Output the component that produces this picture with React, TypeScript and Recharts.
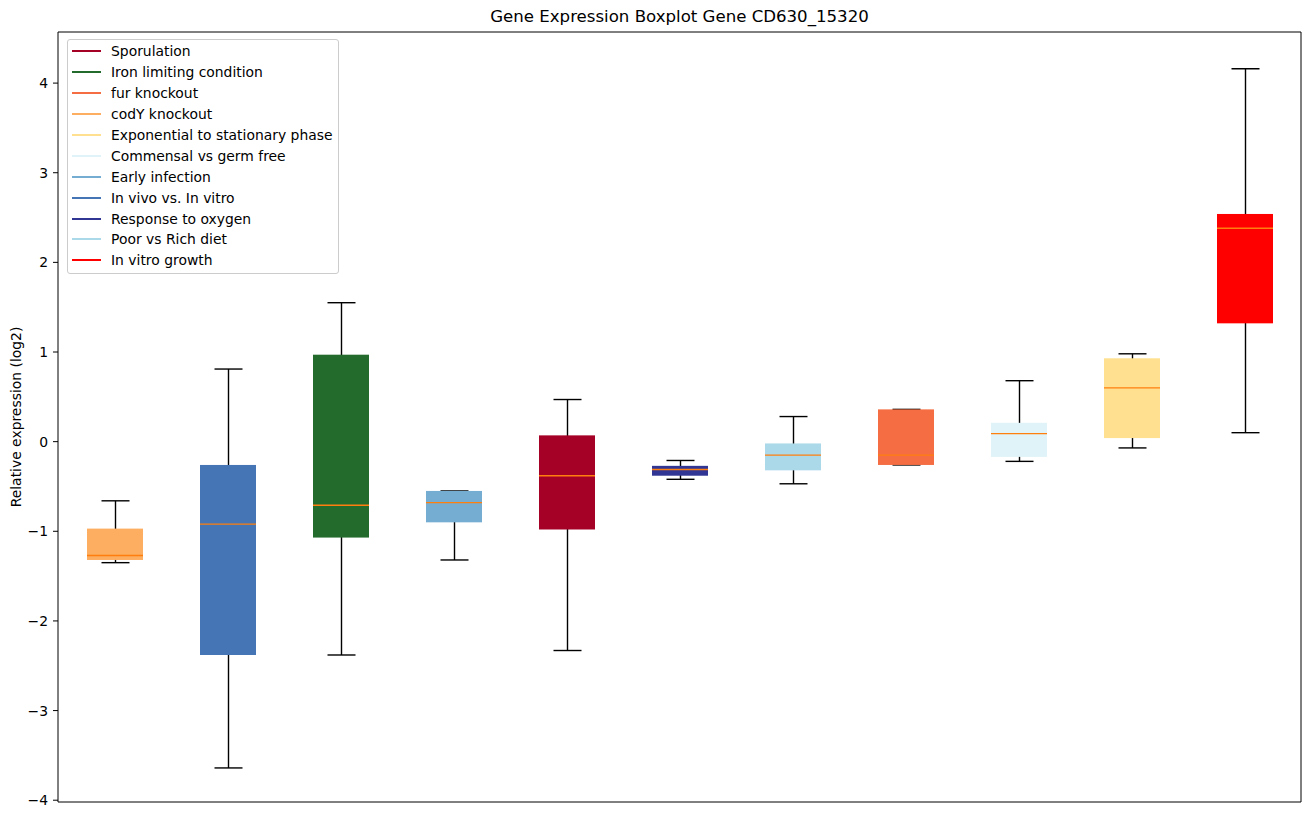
import { ComposedChart, Bar, XAxis, YAxis, Legend, ReferenceArea } from "recharts";

// box order along the x axis
const categories = [
  "codY knockout",
  "In vivo vs. In vitro",
  "Iron limiting condition",
  "Early infection",
  "Sporulation",
  "Response to oxygen",
  "Poor vs Rich diet",
  "fur knockout",
  "Commensal vs germ free",
  "Exponential to stationary phase",
  "In vitro growth",
];
const mins = [-1.35, -3.64, -2.38, -1.32, -2.33, -0.42, -0.47, -0.26, -0.22, -0.07, 0.1];
const q1s = [-1.32, -2.38, -1.07, -0.9, -0.98, -0.38, -0.32, -0.26, -0.17, 0.04, 1.32];
const medians = [-1.27, -0.92, -0.71, -0.68, -0.38, -0.31, -0.15, -0.15, 0.09, 0.6, 2.38];
const q3s = [-0.97, -0.26, 0.97, -0.55, 0.07, -0.27, -0.02, 0.36, 0.21, 0.93, 2.54];
const maxs = [-0.66, 0.81, 1.55, -0.55, 0.47, -0.21, 0.28, 0.36, 0.68, 0.98, 4.16];
const colors = [
  "#fdae61",
  "#4575b4",
  "#226b2c",
  "#74add1",
  "#a50026",
  "#313695",
  "#abd9e9",
  "#f46d43",
  "#e0f3f8",
  "#fee090",
  "#ff0000",
];

const legendNames = [
  "Sporulation",
  "Iron limiting condition",
  "fur knockout",
  "codY knockout",
  "Exponential to stationary phase",
  "Commensal vs germ free",
  "Early infection",
  "In vivo vs. In vitro",
  "Response to oxygen",
  "Poor vs Rich diet",
  "In vitro growth",
];
const legendColors = [
  "#a50026",
  "#226b2c",
  "#f46d43",
  "#fdae61",
  "#fee090",
  "#e0f3f8",
  "#74add1",
  "#4575b4",
  "#313695",
  "#abd9e9",
  "#ff0000",
];

const yTicks = [-4, -3, -2, -1, 0, 1, 2, 3, 4];
const yDomain = [-4.02, 4.57];

const rows = categories.map((name, i) => ({
  name,
  range: [mins[i], maxs[i]],
  q1: q1s[i],
  median: medians[i],
  q3: q3s[i],
  color: colors[i],
}));

const FONT = "'DejaVu Sans', sans-serif";

// whisker-to-whisker bar, box and median placed inside it on the same scale
function BoxShape(props: any) {
  const { x, y, width, height, payload } = props;
  const [lo, hi] = payload.range;
  const top = Math.min(y, y + height);
  const bot = Math.max(y, y + height);
  const toY = (v: number) => (hi === lo ? top : top + ((hi - v) / (hi - lo)) * (bot - top));
  const cx = Math.round(x + width / 2) + 0.5;
  const cap = width / 4;
  const yq3 = toY(payload.q3);
  const yq1 = toY(payload.q1);
  const ymed = toY(payload.median);
  return (
    <g>
      <line x1={cx} x2={cx} y1={top} y2={bot} stroke="#000" strokeWidth={1.4} />
      <line x1={cx - cap} x2={cx + cap} y1={top} y2={top} stroke="#000" strokeWidth={1.4} />
      <line x1={cx - cap} x2={cx + cap} y1={bot} y2={bot} stroke="#000" strokeWidth={1.4} />
      <rect x={x} y={yq3} width={width} height={Math.max(yq1 - yq3, 1)} fill={payload.color} stroke="none" />
      <line x1={x} x2={x + width} y1={ymed} y2={ymed} stroke="#ff7f0e" strokeWidth={1.4} />
    </g>
  );
}

const fmt = (v: number) => (v < 0 ? "\u2212" + Math.abs(v) : String(v));

function LegendBox() {
  return (
    <div
      style={{
        border: "1px solid #cccccc",
        borderRadius: 3,
        background: "rgba(255,255,255,0.8)",
        padding: "1px 5px 2px 4px",
        fontFamily: FONT,
        fontSize: 13.9,
        color: "#000",
        boxSizing: "border-box",
      }}
    >
      {legendNames.map((n, i) => (
        <div key={n} style={{ display: "flex", alignItems: "center", height: 20.9 }}>
          <span style={{ display: "inline-block", width: 29, height: 2, background: legendColors[i], marginRight: 10 }} />
          <span style={{ whiteSpace: "nowrap" }}>{n}</span>
        </div>
      ))}
    </div>
  );
}

export default function App() {
  return (
    <div style={{ position: "absolute", left: 0, top: 0, width: 1309, height: 818, background: "#fff" }}>
      <div
        style={{
          position: "absolute",
          left: 58,
          width: 1243,
          top: 7,
          textAlign: "center",
          fontFamily: FONT,
          fontSize: 16.6,
          color: "#000",
        }}
      >
        Gene Expression Boxplot Gene CD630_15320
      </div>
      <ComposedChart
        width={1309}
        height={818}
        data={rows}
        margin={{ top: 32, right: 8, bottom: 16, left: 0 }}
        barCategoryGap={0}
      >
        <XAxis dataKey="name" hide />
        <YAxis
          type="number"
          domain={yDomain}
          ticks={yTicks}
          allowDataOverflow
          width={58}
          tickFormatter={fmt}
          tickSize={5}
          tickMargin={5}
          tick={{ fill: "#000", fontSize: 13.9, fontFamily: FONT }}
          tickLine={{ stroke: "#000" }}
          axisLine={false}
          label={{
            value: "Relative expression (log2)",
            angle: -90,
            position: "insideLeft",
            offset: 16,
            style: { textAnchor: "middle", fontFamily: FONT, fontSize: 13.9, fill: "#000" },
          }}
        />
        <Legend
          layout="vertical"
          align="center"
          verticalAlign="middle"
          wrapperStyle={{ left: 67, top: 39, width: 272 }}
          content={() => <LegendBox />}
        />
        <Bar dataKey="range" barSize={56} shape={<BoxShape />} isAnimationActive={false} />
        <ReferenceArea
          y1={yDomain[0]}
          y2={yDomain[1]}
          fill="none"
          stroke="#000"
          strokeWidth={1}
          ifOverflow="visible"
        />
      </ComposedChart>
    </div>
  );
}
